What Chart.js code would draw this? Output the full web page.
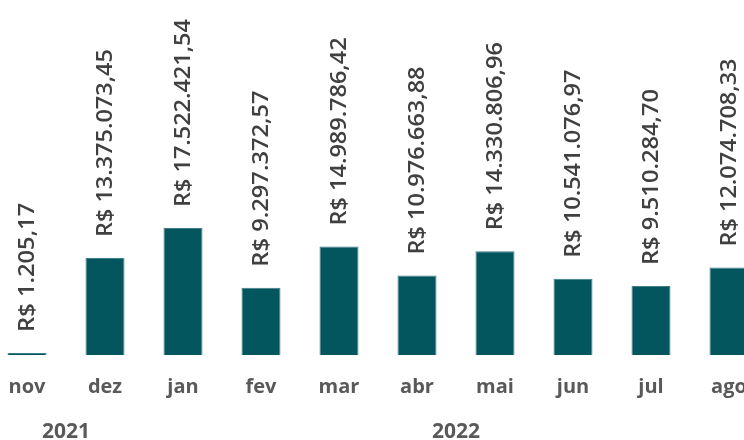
<!DOCTYPE html>
<html>
<head>
<meta charset="utf-8">
<script src="https://cdn.jsdelivr.net/npm/chart.js@4.4.1/dist/chart.umd.min.js"></script>
<style>
  html, body { margin: 0; padding: 0; background: #ffffff; overflow: hidden; width: 744px; height: 440px; }
  #wrap { position: absolute; left: -12px; top: 0; width: 780px; height: 440px; }
</style>
</head>
<body>
<div id="wrap"><canvas id="c"></canvas></div>
<script>
const months = ['nov', 'dez', 'jan', 'fev', 'mar', 'abr', 'mai', 'jun', 'jul', 'ago'];
const monthYears = ['2021', '2021', '2022', '2022', '2022', '2022', '2022', '2022', '2022', '2022'];
const values = [1205.17, 13375073.45, 17522421.54, 9297372.57, 14989786.42, 10976663.88, 14330806.96, 10541076.97, 9510284.70, 12074708.33];

function formatBRL(v) {
  const parts = v.toFixed(2).split('.');
  const intPart = parts[0].replace(/\B(?=(\d{3})+(?!\d))/g, '.');
  return 'R$ ' + intPart + ',' + parts[1];
}

const labelFont = '600 21px "Open Sans"';
const barColor = '#03555e';

const valueLabels = {
  id: 'valueLabels',
  afterDatasetsDraw(chart) {
    const ctx = chart.ctx;
    const meta = chart.getDatasetMeta(0);
    ctx.save();
    ctx.font = labelFont;
    ctx.fillStyle = '#404040';
    ctx.textAlign = 'left';
    ctx.textBaseline = 'middle';
    meta.data.forEach((bar, i) => {
      const text = formatBRL(values[i]);
      const w = ctx.measureText(text).width;
      const target = 188 * text.length / 16;
      ctx.save();
      ctx.translate(bar.x + 1, bar.y - 21);
      ctx.rotate(-Math.PI / 2);
      ctx.scale(target / w, 1);
      ctx.fillText(text, 0, 0);
      ctx.restore();
    });
    ctx.restore();
  }
};

const yearLabels = {
  id: 'yearLabels',
  afterDraw(chart) {
    const ctx = chart.ctx;
    const xs = chart.scales.x;
    const years = [...new Set(monthYears)];
    ctx.save();
    ctx.font = 'bold 21px "Open Sans"';
    ctx.fillStyle = '#595959';
    ctx.textAlign = 'center';
    ctx.textBaseline = 'middle';
    years.forEach(y => {
      const first = monthYears.indexOf(y);
      const last = monthYears.lastIndexOf(y);
      const x = (xs.getPixelForValue(first) + xs.getPixelForValue(last)) / 2;
      ctx.fillText(y, x, chart.chartArea.bottom + 77);
    });
    ctx.restore();
  }
};

new Chart(document.getElementById('c'), {
  type: 'bar',
  data: {
    labels: months,
    datasets: [{
      data: values,
      backgroundColor: barColor,
      borderColor: '#3d7f87',
      borderWidth: 1,
      minBarLength: 2,
      categoryPercentage: 1,
      barPercentage: 0.5
    }]
  },
  options: {
    responsive: true,
    maintainAspectRatio: false,
    animation: false,
    layout: { padding: 0 },
    plugins: {
      legend: { display: false },
      tooltip: { enabled: false }
    },
    scales: {
      x: {
        grid: { display: false, drawTicks: false },
        border: { display: false },
        ticks: {
          color: '#595959',
          font: { family: 'Open Sans', size: 20, weight: 'bold' },
          padding: 20,
          maxRotation: 0,
          autoSkip: false
        },
        afterFit(scale) { scale.height = 85; }
      },
      y: {
        display: false,
        min: 0,
        max: 49000000
      }
    }
  },
  plugins: [valueLabels, yearLabels]
});
</script>
</body>
</html>
